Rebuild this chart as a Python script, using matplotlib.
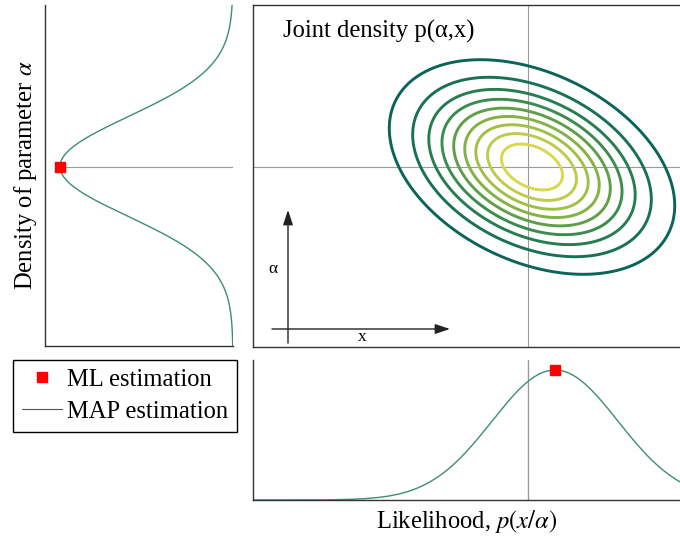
import numpy as np
import matplotlib
matplotlib.use("Agg")
import matplotlib.pyplot as plt
from matplotlib.colors import LinearSegmentedColormap
from matplotlib.lines import Line2D

plt.rcParams['font.family'] = ['Liberation Serif', 'DejaVu Serif']
plt.rcParams['mathtext.fontset'] = 'stix'

# === Model parameters (arbitrary units) ===
MU_X = 5.58      # joint density centre, x
MU_A = 3.60      # joint density centre, alpha
SIG_X = 1.33
SIG_A = 1.00
RHO = -0.36
X_REF = 5.50     # reference line in x

LIK_MU = 6.04    # likelihood p(x|alpha)
LIK_SIG = 1.26

CONTOUR_LEVELS = [0.1, 0.2, 0.3, 0.4, 0.5, 0.6, 0.7, 0.8, 0.9]

X_LIM = (0.0, 8.56)
A_LIM = (0.0, 6.84)

CURVE_COLOR = "#3d8f6b"
GRID_COLOR = "#9a9a9a"
SPINE_COLOR = "#333333"
FS = 17.7

contour_cmap = LinearSegmentedColormap.from_list(
    "joint", ["#0b6458", "#2f8650", "#8fb843", "#d8d84e"])


def gauss(t, mu, sig):
    return np.exp(-0.5 * ((t - mu) / sig) ** 2) / (sig * np.sqrt(2 * np.pi))


W, H = 680, 538
fig = plt.figure(figsize=(W / 100, H / 100), dpi=100)


def px_axes(x0, y0, x1, y1, **kw):
    return fig.add_axes([x0 / W, (H - y1) / H, (x1 - x0) / W, (y1 - y0) / H], **kw)


ax_joint = px_axes(253, 5, 681, 347)
ax_left = px_axes(45, 5, 233, 346)
ax_bot = px_axes(253, 360, 681, 500)

for ax in (ax_joint, ax_left, ax_bot):
    ax.set_xticks([])
    ax.set_yticks([])
    for s in ax.spines.values():
        s.set_color(SPINE_COLOR)
        s.set_linewidth(1.0)

# --- joint density ---
xs = np.linspace(*X_LIM, 500)
as_ = np.linspace(*A_LIM, 500)
XX, AA = np.meshgrid(xs, as_)
zx = (XX - MU_X) / SIG_X
za = (AA - MU_A) / SIG_A
Z = np.exp(-(zx ** 2 - 2 * RHO * zx * za + za ** 2) / (2 * (1 - RHO ** 2)))
ax_joint.contour(XX, AA, Z, levels=CONTOUR_LEVELS, cmap=contour_cmap,
                 vmin=0.1, vmax=0.9, linewidths=2.1)
ax_joint.axhline(MU_A, color=GRID_COLOR, lw=0.8, zorder=0)
ax_joint.axvline(X_REF, color=GRID_COLOR, lw=0.8, zorder=0)
ax_joint.set_xlim(*X_LIM)
ax_joint.set_ylim(*A_LIM)
ax_joint.spines['right'].set_visible(False)
ax_joint.text(0.07, 0.922, "Joint density p(α,x)", transform=ax_joint.transAxes,
              fontsize=FS, va='center', ha='left')

# small coordinate arrows
arrow_kw = dict(arrowstyle='-|>,head_length=0.9,head_width=0.3', color='#222222',
                lw=1.0, shrinkA=0, shrinkB=0)
ax_joint.annotate("", xy=(0.70, 2.74), xytext=(0.70, 0.08), arrowprops=arrow_kw)
ax_joint.annotate("", xy=(3.94, 0.36), xytext=(0.38, 0.36), arrowprops=arrow_kw)
ax_joint.text(0.40, 1.56, "α", fontsize=12.5, ha='center', va='center')
ax_joint.text(2.18, 0.20, "x", fontsize=12.5, ha='center', va='center')

# --- prior density of alpha (left) ---
a_grid = np.linspace(*A_LIM, 400)
dens_a = gauss(a_grid, MU_A, SIG_A)
peak_a = gauss(MU_A, MU_A, SIG_A)
ax_left.plot(dens_a, a_grid, color=CURVE_COLOR, lw=1.0)
ax_left.hlines(MU_A, 0, peak_a, color=GRID_COLOR, lw=0.8, zorder=0)
ax_left.plot([peak_a], [MU_A], 's', color='red', ms=7, zorder=5)
ax_left.set_xlim(peak_a * 188 / 173, 0)
ax_left.set_ylim(*A_LIM)
ax_left.spines['top'].set_visible(False)
ax_left.spines['right'].set_visible(False)
ax_left.set_ylabel(r"Density of parameter $\alpha$", fontsize=FS)
ax_left.yaxis.set_label_coords(-0.03, 0.5)

# --- likelihood (bottom) ---
lik = gauss(xs, LIK_MU, LIK_SIG)
peak_l = gauss(LIK_MU, LIK_MU, LIK_SIG)
ax_bot.plot(xs, lik, color=CURVE_COLOR, lw=1.0)
ax_bot.axvline(X_REF, color=GRID_COLOR, lw=1.0, zorder=0)
ax_bot.plot([LIK_MU], [peak_l], 's', color='red', ms=7, zorder=5)
ax_bot.set_xlim(*X_LIM)
ax_bot.set_ylim(0, peak_l * 140 / 130)
ax_bot.spines['top'].set_visible(False)
ax_bot.spines['right'].set_visible(False)
ax_bot.set_xlabel(r"Likelihood, $p(x/\alpha)$", fontsize=FS, labelpad=6)

# --- legend ---
handles = [
    Line2D([], [], marker='s', color='red', ls='none', ms=7),
    Line2D([], [], color='#555555', lw=0.8),
]
leg = fig.legend(handles, ["ML estimation", "MAP estimation"],
                 loc='upper left', bbox_to_anchor=(13 / W, (H - 360) / H),
                 fontsize=FS, frameon=True, fancybox=False, framealpha=1,
                 edgecolor='black', borderpad=0.36, borderaxespad=0,
                 handlelength=1.65, handletextpad=0.2, labelspacing=0.4)
leg.get_frame().set_linewidth(1.0)

fig.savefig("out.png", dpi=100)
